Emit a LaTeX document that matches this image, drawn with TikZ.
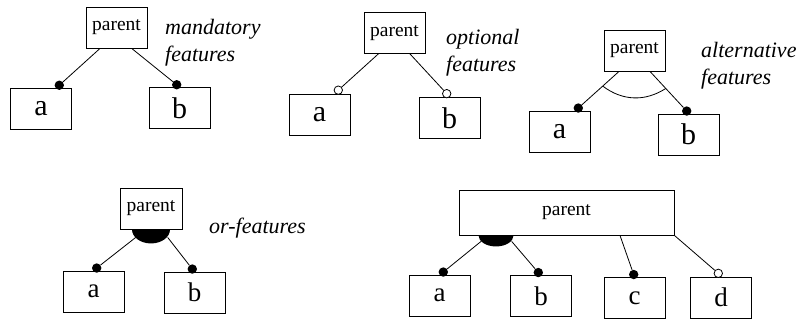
\documentclass[tikz,border=0pt]{standalone}
\usepackage{fontspec}
\setmainfont{Liberation Serif}
\usetikzlibrary{calc}
\tikzset{
  box/.style={draw, line width=0.9pt, inner sep=0pt, minimum width=#1, minimum height=41pt},
  box/.default=61pt,
  pbox/.style={box=#1, font=\fontsize{19.5}{22}\selectfont},
  pbox/.default=61pt,
  leaf/.style={box=61pt, font=\fontsize{30}{34}\selectfont},
  leafb/.style={box=61pt, font=\fontsize{27}{31}\selectfont},
  dotf/.style={circle, fill=black, inner sep=0pt, minimum size=9.4pt},
  doto/.style={circle, draw, fill=white, line width=0.8pt, inner sep=0pt, minimum size=8.4pt},
  edge/.style={line width=0.8pt},
  note/.style={anchor=base west, inner sep=0pt, font=\fontsize{22}{27}\selectfont\itshape},
}
\begin{document}
\begin{tikzpicture}[x=1pt, y=-1pt]
\useasboundingbox (0,0) rectangle (800,320);

% ---- mandatory features
\node[pbox] (p1) at (116.5,27.5) {parent};
\node[leaf] (a1) at (41,108.5) {a};
\node[leaf] (b1) at (179.5,108) {b};
\node[dotf] (m1a) at ([xshift=18.3pt,yshift=2.3pt]a1.north) {};
\node[dotf] (m1b) at ([xshift=-2.8pt,yshift=2.3pt]b1.north) {};
\draw[edge] ([xshift=-16.5pt]p1.south) -- (m1a);
\draw[edge] ([xshift=15.2pt]p1.south) -- (m1b);
\node[note] (t1a) at (165,35) {mandatory};
\node[note] (t1b) at (165,62) {features};

% ---- optional features
\node[pbox] (p2) at (394.5,33) {parent};
\node[leaf] (a2) at (319.5,114.5) {a};
\node[leaf] (b2) at (449.5,118) {b};
\node[doto] (o2a) at ([xshift=18.8pt,yshift=3.4pt]a2.north) {};
\node[doto] (o2b) at ([xshift=-2.8pt,yshift=3.4pt]b2.north) {};
\draw[edge] ([xshift=-16.2pt]p2.south) -- (o2a);
\draw[edge] ([xshift=15.5pt]p2.south) -- (o2b);
\node[note] (t2a) at (446,45) {optional};
\node[note] (t2b) at (446,71.7) {features};

% ---- alternative features
\node[pbox] (p3) at (634.5,50.5) {parent};
\node[leaf] (a3) at (559.5,131.5) {a};
\node[leaf] (b3) at (688.5,134.5) {b};
\node[dotf] (m3a) at ([xshift=18.8pt,yshift=2.5pt]a3.north) {};
\node[dotf] (m3b) at ([xshift=-1.8pt,yshift=2.5pt]b3.north) {};
\coordinate (s3a) at ([xshift=-15.5pt]p3.south);
\coordinate (s3b) at ([xshift=15.5pt]p3.south);
\draw[edge] (s3a) -- (m3a);
\draw[edge] (s3b) -- (m3b);
\draw[edge] ($(s3a)!0.40!(m3a)$) to[bend right=35] ($(s3b)!0.43!(m3b)$);
\node[note] (t3a) at (701,58) {alternative};
\node[note] (t3b) at (701,85) {features};

% ---- or-features
\node[pbox=62pt] (p4) at (151,208.5) {parent};
\node[leafb] (a4) at (93.5,291.5) {a};
\node[leafb] (b4) at (194.5,292.5) {b};
\coordinate (e4) at (p4.south);
\fill ([xshift=-19pt]e4) arc[start angle=180, end angle=360, x radius=19pt, y radius=14pt] -- cycle;
\node[dotf] (m4a) at ([xshift=3.2pt,yshift=2.5pt]a4.north) {};
\node[dotf] (m4b) at ([xshift=-2.2pt,yshift=2.5pt]b4.north) {};
\draw[edge] ([xshift=-15.3pt,yshift=-8pt]e4) -- (m4a);
\draw[edge] ([xshift=16.7pt,yshift=-8pt]e4) -- (m4b);
\node[note] (t4) at (209,234) {or-features};

% ---- combined example
\node[pbox=215pt, minimum height=45pt] (p5) at (566.5,212.5) {parent};
\node[leafb] (a5) at (439.5,295.5) {a};
\node[leafb] (b5) at (541,296) {b};
\node[leafb] (c5) at (634.5,298) {c};
\node[leafb] (d5) at (721,297.5) {d};
\coordinate (e5) at ([xshift=-70.5pt]p5.south);
\fill ([xshift=-17.5pt]e5) arc[start angle=180, end angle=360, x radius=17.5pt, y radius=11pt] -- cycle;
\node[dotf] (m5a) at ([xshift=3.8pt,yshift=2.5pt]a5.north) {};
\node[dotf] (m5b) at ([xshift=-2.7pt,yshift=2.5pt]b5.north) {};
\node[dotf] (m5c) at ([xshift=-0.8pt,yshift=2.5pt]c5.north) {};
\node[doto] (o5d) at ([xshift=-2.7pt,yshift=3.2pt]d5.north) {};
\draw[edge] ([xshift=-15pt,yshift=-6pt]e5) -- (m5a);
\draw[edge] ([xshift=15.7pt,yshift=-6pt]e5) -- (m5b);
\draw[edge] ([xshift=53.5pt]p5.south) -- (m5c);
\draw[edge] (p5.south east) -- (o5d);
\end{tikzpicture}
\end{document}
